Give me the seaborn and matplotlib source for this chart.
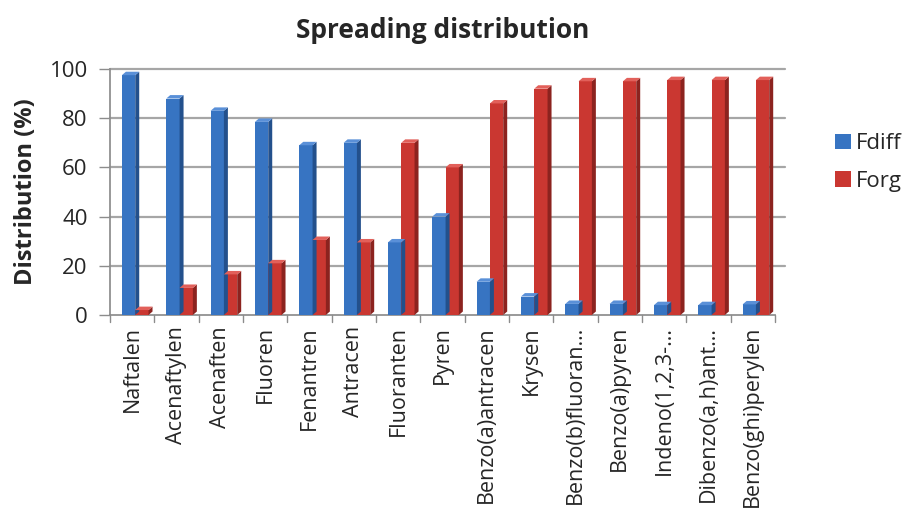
import matplotlib
matplotlib.use("Agg")
import matplotlib.pyplot as plt
from matplotlib.patches import Polygon, Patch
import numpy as np
import pandas as pd
import seaborn as sns

compounds = ["Naftalen", "Acenaftylen", "Acenaften", "Fluoren", "Fenantren",
             "Antracen", "Fluoranten", "Pyren", "Benzo(a)antracen", "Krysen",
             "Benzo(b)fluoran…", "Benzo(a)pyren", "Indeno(1,2,3-…",
             "Dibenzo(a,h)ant…", "Benzo(ghi)perylen"]
fdiff = [97.5, 88, 83, 78.5, 69, 70, 29.5, 40, 13.5, 7.5, 4.5, 4.5, 4, 4, 4.3]
forg = [2, 11, 16.5, 21, 30.5, 29.5, 70, 60, 86, 92, 95, 95, 95.5, 95.5, 95.5]
series = ["Fdiff", "Forg"]
y_ticks = [0, 20, 40, 60, 80, 100]

face = {"Fdiff": "#3774c2", "Forg": "#ca3731"}
side = {"Fdiff": "#23508c", "Forg": "#8c231f"}
top = {"Fdiff": "#5a90d8", "Forg": "#e2605a"}

df = pd.DataFrame({
    "compound": compounds * 2,
    "series": ["Fdiff"] * len(compounds) + ["Forg"] * len(compounds),
    "value": fdiff + forg,
})

sns.set_theme(style="white")
plt.rcParams["font.family"] = ["Open Sans", "DejaVu Sans"]

fig = plt.figure(figsize=(9.08, 5.24), dpi=100)
ax = fig.add_axes([0.1211, 0.3989, 0.7324, 0.4694])

sns.barplot(data=df, x="compound", y="value", hue="series", palette=face,
            width=0.6, dodge=True, ax=ax, legend=False, zorder=3,
            linewidth=0, saturation=1)

# pseudo-3D side and top faces on every bar (bars nudged slightly right)
shift = 0.07
dx, dy = 0.09, 1.4
for patch, (_, row) in zip(ax.patches, df.iterrows()):
    patch.set_x(patch.get_x() + shift)
    x0 = patch.get_x()
    w = patch.get_width()
    h = patch.get_height()
    x1 = x0 + w
    ax.add_patch(Polygon([(x1, 0), (x1 + dx, dy), (x1 + dx, h + dy), (x1, h)],
                         closed=True, facecolor=side[row["series"]],
                         edgecolor="none", zorder=3))
    ax.add_patch(Polygon([(x0, h), (x0 + dx, h + dy), (x1 + dx, h + dy), (x1, h)],
                         closed=True, facecolor=top[row["series"]],
                         edgecolor="none", zorder=3))

n = len(compounds)
ax.set_xlim(-0.5, n - 0.5)
ax.set_ylim(0, 100)
ax.set_yticks(y_ticks)
ax.set_yticklabels([str(t) for t in y_ticks], fontsize=16)
for t in y_ticks[1:]:
    ax.plot([-0.5, n - 0.28], [t, t], color="#a6a6a6", linewidth=1.6,
            zorder=1, clip_on=False)

ax.set_xticks(range(n))
ax.set_xticklabels(compounds, rotation=90, fontsize=15.5)
ax.tick_params(axis="x", length=0, pad=8)
ax.tick_params(axis="y", length=8, width=1, color="#8c8c8c", left=True, pad=8)

# category separators on the bottom axis
for b in np.arange(-0.5, n, 1.0):
    ax.plot([b, b], [0, -3], color="#8c8c8c", linewidth=1, clip_on=False, zorder=4)

for s in ["top", "right"]:
    ax.spines[s].set_visible(False)
ax.spines["left"].set_color("#8c8c8c")
ax.spines["bottom"].set_color("#8c8c8c")

ax.set_xlabel("")
ax.set_ylabel("Distribution (%)", fontsize=17, fontweight="bold", labelpad=8)
ax.set_title("Spreading distribution", fontsize=19, fontweight="bold", pad=22)

handles = [Patch(facecolor=face[s], edgecolor="none") for s in series]
fig.legend(handles, series, loc="center left", bbox_to_anchor=(0.9196, 0.69),
           frameon=False, fontsize=16, handlelength=0.7, handleheight=0.7,
           handletextpad=0.25, labelspacing=0.75, borderaxespad=0, borderpad=0)

fig.savefig("out.png", dpi=100)
